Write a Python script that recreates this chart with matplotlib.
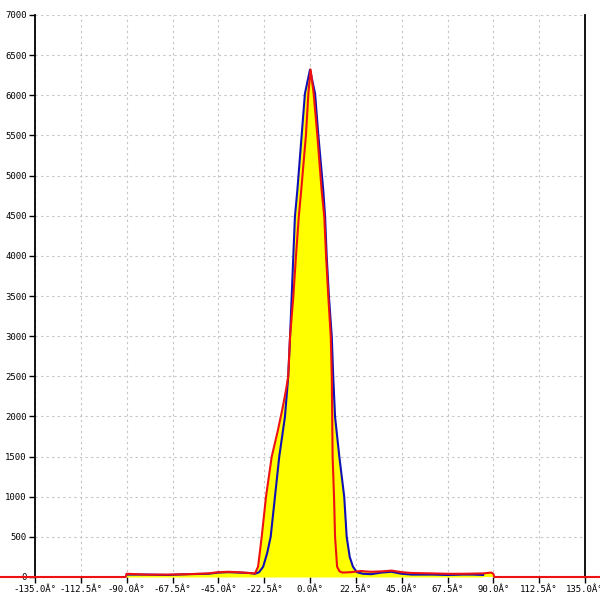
import matplotlib
matplotlib.use('Agg')
import matplotlib.pyplot as plt
import numpy as np

# angoli (gradi) e valori
blue_deg = [-90, -80, -70, -60, -50, -45, -40, -35, -30, -27, -25, -23, -21, -19.3, -17.2,
            -15.1, -12.3, -10.7, -9.8, -9.0, -8.2, -7.4, -6.2, -4.1, -2.5, 0, 2.5, 4.1,
            6.5, 7.4, 8.2, 9.3, 10.7, 11.4, 12.3, 14.4, 16.8, 18.0, 19.5, 21.1, 23, 26,
            30, 35, 40, 45, 50, 60, 67.5, 75, 80, 85]
blue_val = [30, 30, 25, 35, 40, 55, 60, 55, 50, 40, 60, 128, 300, 502, 1000,
            1498, 1996, 2495, 2990, 3490, 3990, 4490, 4820, 5500, 6020, 6320, 6020, 5500,
            4820, 4490, 3990, 3490, 2990, 2495, 1996, 1498, 1000, 502, 250, 128, 60, 40,
            35, 55, 65, 40, 30, 30, 25, 30, 30, 25]

red_deg = [-200, -90.5, -90, -85, -80, -70, -60, -50, -45, -40, -35, -30, -27, -25.5,
           -23.7, -21.6, -18.8, -16, -13.5, -12, -10.7, -9.8, -8.2, -6.9, -5.5, -4.3,
           -2.0, -0.8, 0.3, 1.8, 3.6, 5.7, 7.0, 7.9, 9.0, 10.2, 10.7, 10.9, 11.1, 11.8,
           12.3, 13.3, 14.5, 16, 20, 25, 27, 30, 35, 40, 45, 50, 60, 67.5, 75, 85, 89,
           90, 90.5, 200]
red_val = [0, 0, 40, 35, 30, 30, 35, 45, 60, 65, 60, 50, 45, 128,
           502, 1000, 1498, 1800, 2100, 2300, 2495, 2990, 3490, 3990, 4490, 4820,
           5500, 6020, 6320, 6020, 5500, 4820, 4490, 3990, 3490, 2990, 2495, 1996, 1498, 1000,
           502, 128, 70, 55, 60, 75, 70, 65, 70, 80, 60, 50, 45, 40, 40, 45, 55,
           40, 0, 0]

x_ticks = np.arange(-135, 135.1, 22.5)
x_labels = ['%.1fÂ°' % v for v in x_ticks]
y_ticks = np.arange(0, 7001, 500)

fig = plt.figure(figsize=(6, 6), dpi=100)
ax = fig.add_axes([35/600, 23/600, 550/600, 562/600])

ax.fill_between(blue_deg, blue_val, color='#ffff00', lw=0)
ax.fill_between(red_deg, red_val, color='#ffff00', lw=0)
ax.plot(blue_deg, blue_val, color='#1010b8', lw=1.5)
ax.plot(red_deg, red_val, color='#ee1111', lw=1.5, clip_on=False, zorder=5)

ax.set_xlim(-135, 135)
ax.set_ylim(0, 7000)
ax.set_xticks(x_ticks)
ax.set_xticklabels(x_labels)
ax.set_yticks(y_ticks)
ax.set_yticklabels([str(v) for v in y_ticks])

ax.grid(True, color='#c4c4c4', linestyle=(0, (2, 3)), lw=0.8)
ax.set_axisbelow(True)

for s in ['top', 'bottom']:
    ax.spines[s].set_visible(False)
ax.spines['left'].set_color('black')
ax.spines['right'].set_color('black')
ax.spines['left'].set_linewidth(1.3)
ax.spines['right'].set_linewidth(1.3)

ax.tick_params(axis='both', direction='out', length=4, width=1, colors='black',
               labelsize=6.5, pad=2)
for lab in ax.get_xticklabels() + ax.get_yticklabels():
    lab.set_family('DejaVu Sans Mono')

fig.savefig('out.png', dpi=100, facecolor='white')
